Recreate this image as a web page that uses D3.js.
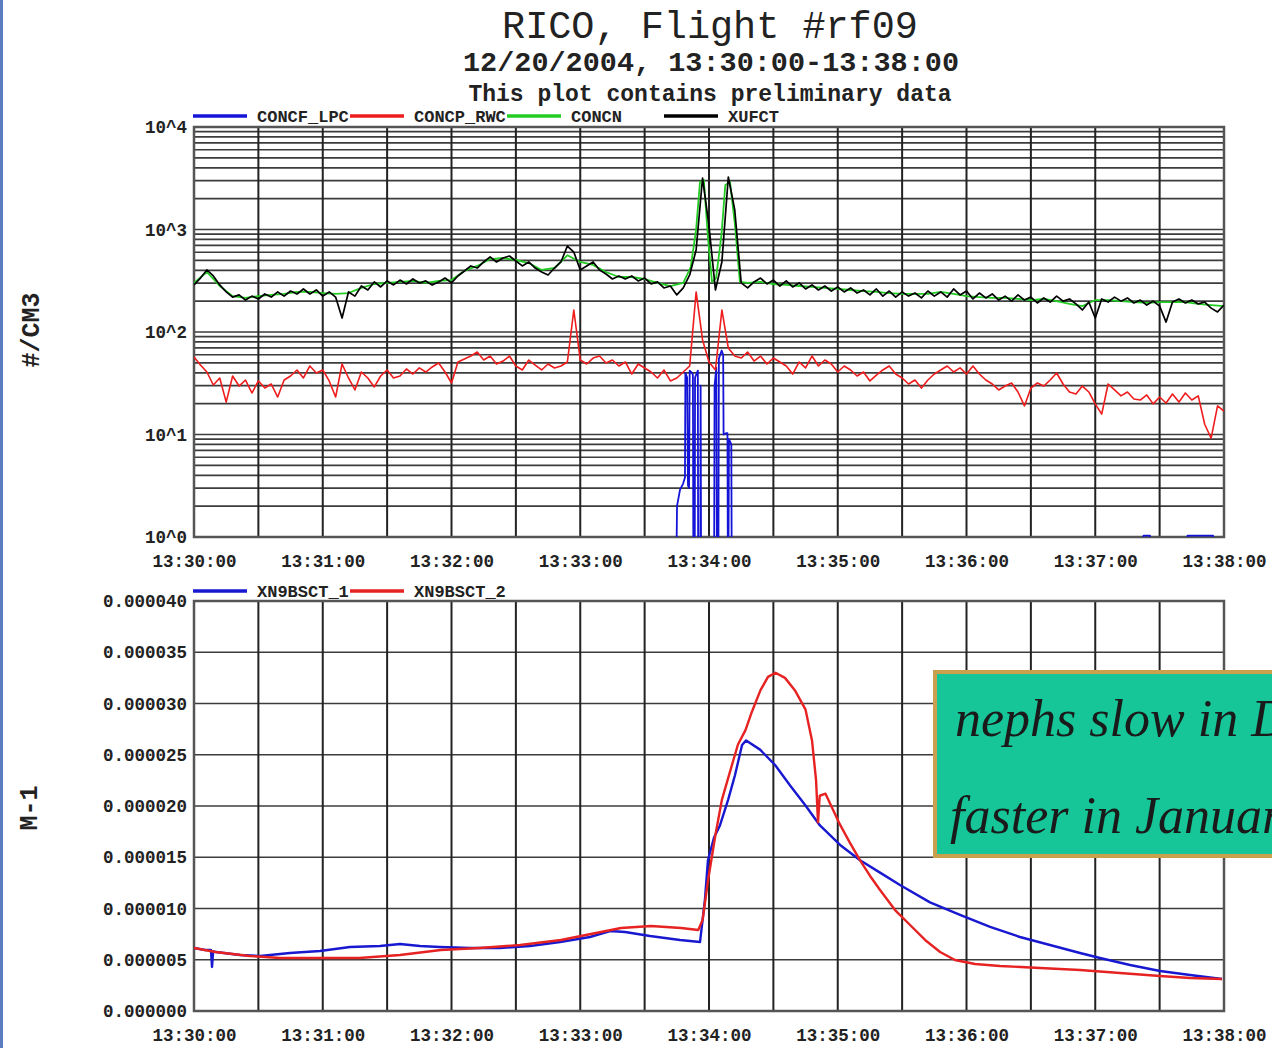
<!DOCTYPE html>
<html>
<head>
<meta charset="utf-8">
<script src="https://cdn.jsdelivr.net/npm/d3@7"></script>
<style>
  body { margin: 0; background: #fff; }
  svg { display: block; }
</style>
</head>
<body>
<svg id="chart" width="1272" height="1048"></svg>
<script>
// ---------------- data ----------------
// Seconds after 13:30:00 on 12/20/2004; the window runs for 480 s.
const WINDOW_SECONDS = 480;

// Top panel: particle concentrations (#/CM3), log scale.
const topLegend = ["CONCF_LPC", "CONCP_RWC", "CONCN", "XUFCT"];
const topColors = ["#1414d8", "#ee1c1c", "#22cc22", "#000000"];
const topTickExponents = [0, 1, 2, 3, 4];

// XUFCT and CONCP_RWC are sampled every 3 s.
const SAMPLE_STEP = 3;
const xufct = [
  288,336,403,352,288,246,219,230,205,224,
  210,235,219,246,224,251,235,263,235,257,
  224,246,219,137,246,224,281,257,308,275,
  315,288,321,294,329,301,315,288,308,336,
  301,352,394,441,421,482,540,482,527,551,
  493,441,482,421,385,360,421,482,690,603,
  403,441,482,403,368,329,352,329,352,315,
  336,294,308,269,281,230,269,360,631,3177,
  1082,257,482,3250,1549,301,269,308,336,294,
  321,281,315,275,301,263,288,257,281,251,
  275,246,269,240,257,230,263,224,251,219,
  246,224,240,215,251,224,246,219,263,230,
  251,210,240,215,235,205,224,200,230,205,
  219,192,215,196,224,200,210,188,164,196,
  137,210,196,219,200,215,192,205,183,200,
  179,125,196,210,192,205,188,196,171,157,
  183
];
const concpRwc = [
  57.0,47.6,40.7,30.4,35.6,20.7,37.2,29.7,34.0,25.4,
  33.3,28.4,31.1,23.2,34.0,37.2,42.6,35.6,46.6,39.8,
  42.6,33.3,23.2,48.7,35.6,27.2,40.7,35.6,29.1,37.2,
  42.6,35.6,37.2,43.6,38.9,44.6,40.7,45.6,49.8,40.7,
  31.8,51.0,54.5,58.3,63.8,53.3,58.3,48.7,52.1,58.3,
  46.6,42.6,53.3,47.6,42.6,48.7,44.6,46.6,51.0,164,
  53.3,48.7,55.7,58.3,49.8,53.3,46.6,51.0,38.9,48.7,
  44.6,40.7,35.6,42.6,33.3,35.6,40.7,46.6,246,83.6,
  51.0,42.6,164,69.8,58.3,55.7,63.8,52.1,58.3,48.7,
  55.7,51.0,46.6,38.9,51.0,44.6,58.3,46.6,53.3,48.7,
  40.7,46.6,42.6,37.2,40.7,33.3,38.0,42.6,46.6,38.9,
  35.6,31.1,34.0,28.4,34.0,38.9,42.6,46.6,40.7,44.6,
  38.9,46.6,38.9,34.0,31.1,27.2,29.7,31.8,26.0,19.0,
  28.4,31.8,29.7,34.0,39.8,31.1,26.0,24.8,29.7,26.0,
  19.9,15.8,31.1,27.2,23.8,26.0,22.2,21.7,24.3,19.9,
  23.2,20.3,24.8,20.7,25.4,21.7,23.8,12.6,9.2,19.0,
  16.9
];
// CONCN as [seconds, value]
const concn = [
  [0,301],[6,385],[12,281],[18,224],[24,215],[30,224],[36,230],[42,235],[48,246],[54,246],
  [60,240],[66,235],[72,240],[78,269],[84,294],[90,301],[96,308],[102,315],[108,301],[114,315],
  [120,321],[126,394],[132,441],[138,515],[144,527],[150,504],[156,471],[162,403],[168,421],[174,560],
  [180,482],[186,451],[192,385],[198,344],[204,344],[210,329],[216,301],[222,281],[228,301],[231.5,430],
  [234,1000],[235.8,2904],[237.6,3041],[239.6,790],[241.4,308],[243.3,336],[245.8,884],[247.6,2717],[249.8,2904],[252.1,1107],
  [254.4,308],[258,301],[264,308],[270,294],[276,288],[282,281],[288,275],[294,269],[300,263],[306,257],
  [312,251],[318,246],[324,240],[330,235],[336,235],[342,235],[348,246],[354,235],[360,224],[366,219],
  [372,215],[378,215],[384,210],[390,205],[396,210],[402,200],[408,188],[414,179],[420,205],[426,205],
  [432,200],[438,196],[444,192],[450,196],[456,196],[462,196],[468,188],[474,183],[480,179]
];
// CONCF_LPC as [seconds, value]; zero readings fall below the axis.
const concfLpc = [
  [224.4,0],[225.1,2.0],[226.5,2.9],[227.9,3.3],[228.8,3.8],[229.0,40],[229.8,36],[230.2,3.2],
  [230.7,3.0],[231.0,42],[232.1,40],[232.5,38],[232.8,0],[233.3,0],[233.5,36],[234.8,42],
  [235.0,0],[235.9,0],[236.1,30],[236.4,0],[242.3,0],[242.6,30],[243.4,45],[243.8,0],
  [244.3,0],[244.6,55],[245.9,66],[246.6,60],[246.8,10],[247.9,10.3],[248.6,10.3],[248.9,0],
  [249.3,9],[250.4,8],[250.7,0],[252,0],
  [442.3,0],[442.5,1.03],[445.5,1.03],[445.7,0],[462.8,0],[463,1.03],[474.9,1.03],[475.1,0]
];

// Bottom panel: nephelometer scattering (M-1), linear scale.
const botLegend = ["XN9BSCT_1", "XN9BSCT_2"];
const botColors = ["#1818d0", "#e62222"];
const botTickStep = 5e-6;
const botMax = 4e-5;
const xn9bsct1 = [
  [0,6.15e-6],[5.1,5.95e-6],[7.9,5.95e-6],[8.4,4.3e-6],[8.9,5.8e-6],[10.3,5.76e-6],[21.4,5.46e-6],
  [30.8,5.37e-6],[44.7,5.66e-6],[58.7,5.85e-6],[72.7,6.24e-6],[86.7,6.34e-6],[96,6.54e-6],
  [105.3,6.34e-6],[114.6,6.24e-6],[128.6,6.15e-6],[142.6,6.15e-6],[156.6,6.34e-6],[170.6,6.73e-6],
  [184.5,7.22e-6],[193.9,7.80e-6],[200.9,7.71e-6],[212.5,7.32e-6],[226.5,6.93e-6],[235.8,6.73e-6],
  [238.1,10.83e-6],[239.5,14.7e-6],[242.3,16.9e-6],[245.1,18.1e-6],[248.9,20.6e-6],[252.1,23.0e-6],
  [255.4,25.95e-6],[257.3,26.4e-6],[263.8,25.5e-6],[270.8,24.0e-6],[277.8,22.0e-6],[284.8,20.1e-6],
  [291.7,18.1e-6],[301.1,16.2e-6],[310.4,14.7e-6],[319.7,13.5e-6],[329,12.3e-6],[343,10.6e-6],
  [357,9.37e-6],[371,8.2e-6],[384.9,7.22e-6],[398.9,6.44e-6],[412.9,5.66e-6],[422.2,5.17e-6],
  [436.2,4.49e-6],[450.2,3.90e-6],[464.2,3.51e-6],[479.1,3.12e-6]
];
const xn9bsct2 = [
  [0,6.15e-6],[10,5.76e-6],[26,5.37e-6],[40,5.17e-6],[59,5.17e-6],[77,5.17e-6],[96,5.46e-6],
  [115,5.95e-6],[133,6.15e-6],[152,6.44e-6],[171,6.93e-6],[185,7.51e-6],[199,8.10e-6],[213,8.29e-6],
  [227,8.10e-6],[235,7.90e-6],[237,8.88e-6],[239.6,12.8e-6],[243,17.2e-6],[246,20.6e-6],[250,23.5e-6],
  [253.5,26.0e-6],[257,27.4e-6],[260,29.2e-6],[264,31.3e-6],[267.5,32.6e-6],[271,33.0e-6],
  [275.4,32.5e-6],[280,31.3e-6],[285,29.4e-6],[288,26.4e-6],[289.9,22.5e-6],[290.8,18.4e-6],
  [291.6,21.0e-6],[294.3,21.2e-6],[301,18.2e-6],[305.7,16.4e-6],[310.4,14.7e-6],[315,13.2e-6],
  [319.7,11.8e-6],[326.7,9.85e-6],[333.7,8.39e-6],[340.7,6.93e-6],[347.7,5.76e-6],[354.6,4.98e-6],
  [364,4.59e-6],[375.6,4.39e-6],[394.3,4.20e-6],[412.9,4.00e-6],[431.5,3.71e-6],[450.2,3.41e-6],
  [464.2,3.22e-6],[479,3.12e-6]
];

const titleText = "RICO, Flight #rf09";
const subtitleText = "12/20/2004, 13:30:00-13:38:00";
const noteText = "This plot contains preliminary data";
const topYTitle = "#/CM3";
const botYTitle = "M-1";
const calloutLines = ["nephs slow in December", "faster in January"];

// ---------------- layout ----------------
const svg = d3.select("#chart");
const mono = "'Liberation Mono', 'DejaVu Sans Mono', monospace";
const plotLeft = 194, plotRight = 1224;
const topBox = { y0: 127, y1: 537 };
const botBox = { y0: 601, y1: 1011 };

const t0 = new Date(2004, 11, 20, 13, 30, 0);
const at = s => new Date(t0.getTime() + s * 1000);
const x = d3.scaleTime().domain([t0, at(WINDOW_SECONDS)]).range([plotLeft, plotRight]);
const yTop = d3.scaleLog().domain([1, 1e4]).range([topBox.y1, topBox.y0]);
const yBot = d3.scaleLinear().domain([0, botMax]).range([botBox.y1, botBox.y0]);
const fmtTime = d3.timeFormat("%H:%M:%S");

// page edge stripe
svg.append("rect").attr("x", 0).attr("y", 0).attr("width", 3).attr("height", 1048).attr("fill", "#5b7cc0");

// titles
svg.append("text").attr("x", 710).attr("y", 38).attr("text-anchor", "middle")
  .attr("font-family", mono).attr("font-size", 38.5).attr("fill", "#222").text(titleText);
svg.append("text").attr("x", 711).attr("y", 71).attr("text-anchor", "middle")
  .attr("font-family", mono).attr("font-weight", "bold").attr("font-size", 28.5).attr("fill", "#222").text(subtitleText);
svg.append("text").attr("x", 710).attr("y", 101).attr("text-anchor", "middle")
  .attr("font-family", mono).attr("font-weight", "bold").attr("font-size", 23).attr("fill", "#222").text(noteText);

function panel(box, clipId) {
  const g = svg.append("g");
  g.append("clipPath").attr("id", clipId).append("rect")
    .attr("x", plotLeft).attr("y", box.y0).attr("width", plotRight - plotLeft).attr("height", box.y1 - box.y0);
  return g;
}

function drawGrid(g, box, yValues, yScale) {
  // horizontal lines
  g.append("g").selectAll("line").data(yValues).join("line")
    .attr("x1", plotLeft).attr("x2", plotRight)
    .attr("y1", d => yScale(d)).attr("y2", d => yScale(d))
    .attr("stroke", "#3c3c3c").attr("stroke-width", 1.7);
  // vertical lines every 30 s
  const vt = x.ticks(d3.timeSecond.every(30));
  g.append("g").selectAll("line").data(vt).join("line")
    .attr("x1", d => x(d)).attr("x2", d => x(d))
    .attr("y1", box.y0).attr("y2", box.y1)
    .attr("stroke", "#222").attr("stroke-width", 2);
  // frame
  g.append("rect").attr("x", plotLeft).attr("y", box.y0)
    .attr("width", plotRight - plotLeft).attr("height", box.y1 - box.y0)
    .attr("fill", "none").attr("stroke", "#555").attr("stroke-width", 2.5);
}

function drawXAxis(g, box) {
  const ax = d3.axisBottom(x).ticks(d3.timeMinute.every(1)).tickFormat(fmtTime).tickSize(0).tickPadding(18);
  const a = g.append("g").attr("transform", `translate(0,${box.y1})`).call(ax);
  a.select(".domain").remove();
  a.selectAll("text").attr("font-family", mono).attr("font-weight", "bold")
    .attr("font-size", 17.5).attr("fill", "#222");
}

function drawLegend(g, names, colors, y) {
  const slot = 157;
  names.forEach((n, i) => {
    const x0 = 193 + i * slot;
    g.append("line").attr("x1", x0).attr("x2", x0 + 54).attr("y1", y).attr("y2", y)
      .attr("stroke", colors[i]).attr("stroke-width", 3.5);
    g.append("text").attr("x", x0 + 64).attr("y", y + 6)
      .attr("font-family", mono).attr("font-weight", "bold").attr("font-size", 17)
      .attr("fill", "#222").text(n);
  });
}

// ---------- top panel ----------
const gTop = panel(topBox, "clipTop");
drawGrid(gTop, topBox, yTop.ticks(), yTop);

const floorLog = v => Math.max(v, 0.1);
const lineTop = d3.line().x(d => x(at(d[0]))).y(d => yTop(floorLog(d[1])));
const regular = arr => arr.map((v, i) => [i * SAMPLE_STEP, v]);

const topSeries = [
  { data: concfLpc, color: topColors[0], w: 1.8 },
  { data: regular(concpRwc), color: topColors[1], w: 1.6 },
  { data: concn, color: topColors[2], w: 1.8 },
  { data: regular(xufct), color: topColors[3], w: 1.7 }
];
const topLines = gTop.append("g").attr("clip-path", "url(#clipTop)");
topSeries.forEach(s => {
  topLines.append("path").datum(s.data).attr("d", lineTop)
    .attr("fill", "none").attr("stroke", s.color).attr("stroke-width", s.w)
    .attr("stroke-linejoin", "round");
});

const yTopAxis = d3.axisLeft(yTop).tickValues(topTickExponents.map(e => Math.pow(10, e)))
  .tickFormat(d => "10^" + Math.round(Math.log10(d))).tickSize(0).tickPadding(7);
const ya = gTop.append("g").attr("transform", `translate(${plotLeft},0)`).call(yTopAxis);
ya.select(".domain").remove();
ya.selectAll("text").attr("font-family", mono).attr("font-weight", "bold").attr("font-size", 17.5).attr("fill", "#222");

drawXAxis(gTop, topBox);
drawLegend(gTop, topLegend, topColors, 116);

svg.append("text").attr("transform", "translate(32,330) rotate(-90)")
  .attr("text-anchor", "middle").attr("dominant-baseline", "central")
  .attr("font-family", mono).attr("font-weight", "bold").attr("font-size", 25).attr("fill", "#222")
  .text(topYTitle);

// ---------- bottom panel ----------
const gBot = panel(botBox, "clipBot");
const botTicks = d3.range(0, botMax + botTickStep / 2, botTickStep);
drawGrid(gBot, botBox, botTicks, yBot);

const lineBot = d3.line().x(d => x(at(d[0]))).y(d => yBot(d[1]));
const botLines = gBot.append("g").attr("clip-path", "url(#clipBot)");
[xn9bsct1, xn9bsct2].forEach((data, i) => {
  botLines.append("path").datum(data).attr("d", lineBot)
    .attr("fill", "none").attr("stroke", botColors[i]).attr("stroke-width", 2.4)
    .attr("stroke-linejoin", "round");
});

const yBotAxis = d3.axisLeft(yBot).tickValues(botTicks).tickFormat(d3.format(".6f")).tickSize(0).tickPadding(7);
const yb = gBot.append("g").attr("transform", `translate(${plotLeft},0)`).call(yBotAxis);
yb.select(".domain").remove();
yb.selectAll("text").attr("font-family", mono).attr("font-weight", "bold").attr("font-size", 17.5).attr("fill", "#222");

drawXAxis(gBot, botBox);
drawLegend(gBot, botLegend, botColors, 591);

svg.append("text").attr("transform", "translate(30,808) rotate(-90)")
  .attr("text-anchor", "middle").attr("dominant-baseline", "central")
  .attr("font-family", mono).attr("font-weight", "bold").attr("font-size", 25).attr("fill", "#222")
  .text(botYTitle);

// ---------- callout (runs past the right edge of the page) ----------
const callout = svg.append("g");
callout.append("rect").attr("x", 935).attr("y", 672).attr("width", 420).attr("height", 184)
  .attr("fill", "#16c598").attr("stroke", "#c9a14c").attr("stroke-width", 4);
callout.selectAll("text").data(calloutLines).join("text")
  .attr("x", (d, i) => i === 0 ? 955 : 950)
  .attr("y", (d, i) => 736 + i * 97)
  .attr("font-family", "'Liberation Serif', serif").attr("font-style", "italic")
  .attr("font-size", 52).attr("fill", "#1a1a1a").text(d => d);
</script>
</body>
</html>
